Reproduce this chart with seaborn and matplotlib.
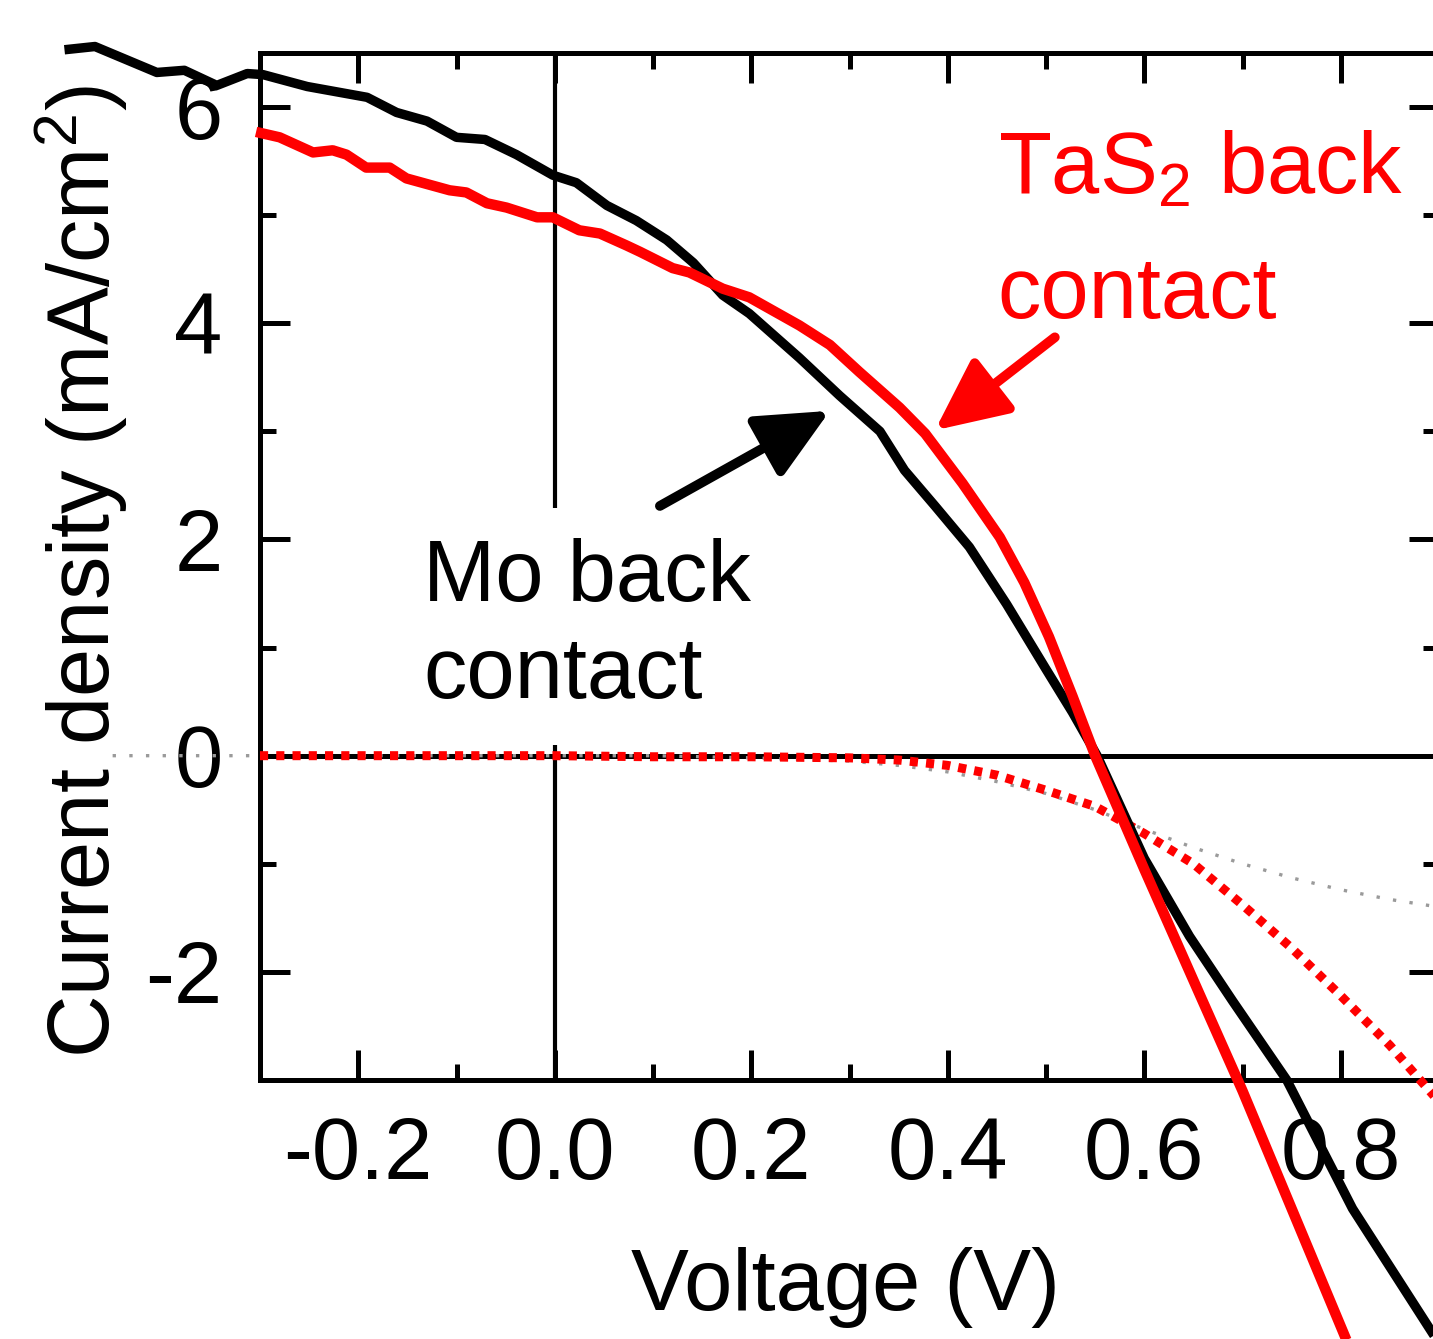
import numpy as np
import pandas as pd
import matplotlib
matplotlib.use("Agg")
import matplotlib.pyplot as plt
import seaborn as sns

# ---------------- data ----------------
mo_light_v = [-0.499, -0.468, -0.405, -0.377, -0.344, -0.313, -0.297, -0.252, -0.191, -0.161,
              -0.130, -0.100, -0.071, -0.039, -0.002, 0.022, 0.053, 0.083, 0.114, 0.141,
              0.171, 0.198, 0.249, 0.290, 0.331, 0.356, 0.387, 0.422, 0.460, 0.500,
              0.527, 0.552, 0.600, 0.646, 0.690, 0.745, 0.812, 0.894, 0.920]
mo_light_j = [6.53, 6.56, 6.32, 6.34, 6.20, 6.31, 6.30, 6.19, 6.09, 5.95,
              5.87, 5.72, 5.70, 5.56, 5.37, 5.30, 5.09, 4.95, 4.77, 4.56,
              4.26, 4.09, 3.68, 3.33, 3.00, 2.64, 2.31, 1.93, 1.40, 0.80,
              0.40, 0.00, -0.95, -1.67, -2.27, -3.00, -4.19, -5.35, -5.70]

tas2_light_v = [-0.304, -0.280, -0.246, -0.226, -0.212, -0.192, -0.168, -0.151, -0.127, -0.107,
                -0.090, -0.069, -0.049, -0.018, -0.002, 0.025, 0.046, 0.073, 0.087, 0.120,
                0.137, 0.171, 0.198, 0.249, 0.280, 0.310, 0.351, 0.377, 0.415, 0.453,
                0.478, 0.503, 0.527, 0.550, 0.600, 0.656, 0.700, 0.806, 0.830]
tas2_light_j = [5.77, 5.72, 5.58, 5.60, 5.56, 5.44, 5.44, 5.34, 5.28, 5.23,
                5.21, 5.11, 5.07, 4.98, 4.98, 4.86, 4.83, 4.72, 4.66, 4.51,
                4.47, 4.32, 4.24, 3.98, 3.80, 3.55, 3.22, 2.98, 2.52, 2.02,
                1.60, 1.10, 0.55, 0.00, -1.05, -2.20, -3.10, -5.41, -5.95]

tas2_dark_v = [-0.300, -0.200, -0.100, 0.000, 0.100, 0.200, 0.300, 0.350, 0.400, 0.450,
               0.500, 0.550, 0.600, 0.650, 0.700, 0.750, 0.800, 0.850, 0.900, 0.920]
tas2_dark_j = [0.00, 0.00, 0.00, 0.00, -0.01, -0.01, -0.02, -0.04, -0.09, -0.18,
               -0.32, -0.47, -0.72, -1.00, -1.38, -1.78, -2.22, -2.68, -3.20, -3.42]

mo_dark_v = [-0.450, -0.300, -0.200, -0.100, 0.000, 0.100, 0.200, 0.300, 0.350, 0.400,
             0.450, 0.500, 0.550, 0.600, 0.650, 0.700, 0.750, 0.800, 0.850, 0.900]
mo_dark_j = [0.00, 0.00, 0.00, 0.00, 0.00, 0.00, -0.02, -0.05, -0.09, -0.15,
             -0.24, -0.35, -0.50, -0.68, -0.85, -1.00, -1.13, -1.24, -1.33, -1.40]

x_ticks = [-0.2, 0.0, 0.2, 0.4, 0.6, 0.8]
x_ticklabels = ["-0.2", "0.0", "0.2", "0.4", "0.6", "0.8"]
y_ticks = [-2, 0, 2, 4, 6]
y_ticklabels = ["-2", "0", "2", "4", "6"]

# ---------------- style ----------------
sns.set_style("ticks")
plt.rcParams["font.family"] = ["Liberation Sans", "DejaVu Sans"]
plt.rcParams["mathtext.fontset"] = "custom"
plt.rcParams["mathtext.rm"] = "Liberation Sans"
plt.rcParams["mathtext.it"] = "Liberation Sans:italic"
plt.rcParams["mathtext.bf"] = "Liberation Sans:bold"
plt.rcParams["axes.unicode_minus"] = False
plt.rcParams["text.color"] = "black"
plt.rcParams["axes.labelcolor"] = "black"
plt.rcParams["xtick.color"] = "black"
plt.rcParams["ytick.color"] = "black"

FS = 62.5
DPI = 100
fig = plt.figure(figsize=(14.33, 13.39), dpi=DPI)
ax = fig.add_axes([260 / 1433, 1 - 1080 / 1339, 1179 / 1433, 1027 / 1339])

# zero reference lines
ax.axhline(0, color="black", lw=3.6, zorder=1)
ax.axvline(0, color="black", lw=3.0, zorder=1)

# dark curves
sns.lineplot(x=mo_dark_v, y=mo_dark_j, ax=ax, sort=False, estimator=None,
             color="#9a9a9a", linewidth=2.4, zorder=2)
sns.lineplot(x=tas2_dark_v, y=tas2_dark_j, ax=ax, sort=False, estimator=None,
             color="#ff0000", linewidth=6.5, zorder=3)
# light curves
sns.lineplot(x=mo_light_v, y=mo_light_j, ax=ax, sort=False, estimator=None,
             color="black", linewidth=6.8, zorder=4)
sns.lineplot(x=tas2_light_v, y=tas2_light_j, ax=ax, sort=False, estimator=None,
             color="#ff0000", linewidth=7.5, zorder=5)

lines = ax.get_lines()
for ln in lines:
    ln.set_clip_on(False)
    ln.set_solid_capstyle("butt")
    ln.set_dash_capstyle("butt")
lines[2].set_linestyle((0, (1.0, 4.0)))
lines[3].set_linestyle((0, (0.9, 0.9)))

ax.set_xlim(-0.3, 0.9)
ax.set_ylim(-3, 6.5)
ax.set_xticks(x_ticks)
ax.set_xticklabels(x_ticklabels)
ax.set_yticks(y_ticks)
ax.set_yticklabels(y_ticklabels)
ax.xaxis.set_minor_locator(matplotlib.ticker.MultipleLocator(0.1))
ax.yaxis.set_minor_locator(matplotlib.ticker.MultipleLocator(1))

for s in ax.spines.values():
    s.set_linewidth(3.6)
    s.set_color("black")
ax.tick_params(which="both", direction="in", top=True, right=True, width=3.6, colors="black")
ax.tick_params(which="major", length=21.5)
ax.tick_params(which="minor", length=11.5)
ax.tick_params(axis="x", which="major", labelsize=FS, pad=26)
ax.tick_params(axis="y", which="major", labelsize=FS, pad=27)

ax.set_xlabel("Voltage (V)", fontsize=FS, color="black")
ax.set_ylabel("Current density (mA/cm$^2$)", fontsize=FS, color="black")
ax.xaxis.set_label_coords(0.497, -0.163)
ax.yaxis.set_label_coords(-0.110, 0.495)

# annotations
ax.text(-0.134, 0.537, "Mo back\ncontact", fontsize=FS, color="black", ha="left", va="baseline",
        linespacing=1.25, zorder=6, bbox=dict(facecolor="white", edgecolor="none", pad=21))
ax.text(0.451, 5.20, "TaS$_2$ back", fontsize=FS, color="#ff0000", ha="left",
        va="baseline", zorder=6)
ax.text(0.451, 4.05, "contact", fontsize=FS, color="#ff0000", ha="left",
        va="baseline", zorder=6)

ax.annotate("", xy=(0.280, 3.19), xytext=(0.107, 2.31), zorder=7,
            arrowprops=dict(arrowstyle="-|>,head_length=1.0,head_width=0.47",
                            mutation_scale=44, lw=7, color="black",
                            shrinkA=0, shrinkB=0))
ax.annotate("", xy=(0.387, 3.01), xytext=(0.509, 3.87), zorder=7,
            arrowprops=dict(arrowstyle="-|>,head_length=1.0,head_width=0.47",
                            mutation_scale=44, lw=7, color="#ff0000",
                            shrinkA=0, shrinkB=0))

fig.savefig("out.png", dpi=DPI)
